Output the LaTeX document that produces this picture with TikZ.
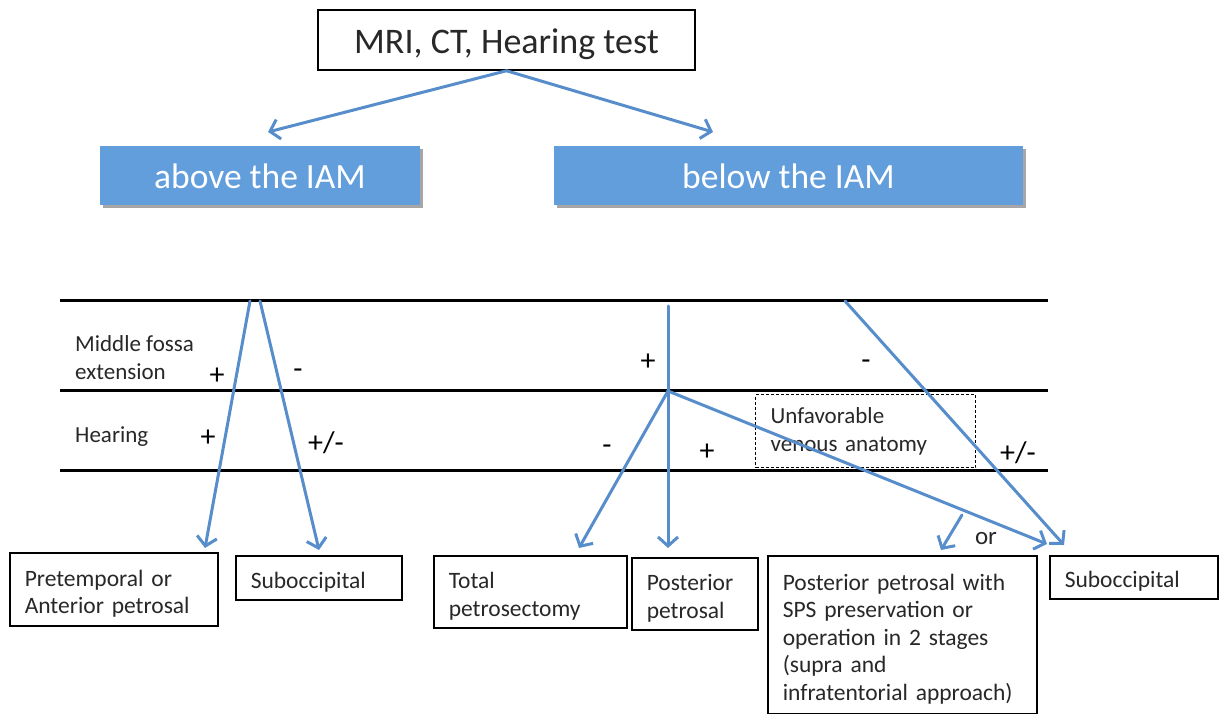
\documentclass[tikz,border=0pt]{standalone}
\usepackage{fontspec}
\setmainfont{Carlito}
\usetikzlibrary{arrows.meta,shadows}
\definecolor{lineblue}{RGB}{88,141,203}
\definecolor{boxblue}{RGB}{98,157,220}
\definecolor{txt}{RGB}{40,40,40}
\newcommand{\dnstrut}{\rule{0pt}{25pt}}
\begin{document}
\begin{tikzpicture}[x=1pt,y=-1pt,
  conn/.style={draw=lineblue, line width=3pt, line cap=round,
    -{Straight Barb[length=9pt,width=20pt,line width=3pt]}},
  rule/.style={draw=black, line width=3pt},
  topbox/.style={draw=black, line width=1.5pt, fill=white, minimum width=377pt,
    minimum height=60pt, inner sep=0pt, font=\fontsize{36}{40}\selectfont, text=txt},
  bluebox/.style={fill=boxblue, minimum height=59pt, inner sep=0pt,
    font=\fontsize{35.5}{40}\selectfont, text=white,
    drop shadow={shadow xshift=3pt, shadow yshift=-3pt, opacity=0.35, fill=black}},
  obox/.style={draw=black, line width=1.5pt, fill=white, anchor=north west,
    align=left, inner xsep=15pt, inner ysep=0pt, text=txt,
    font=\fontsize{23.5}{27.5}\selectfont},
  lab/.style={font=\fontsize{23}{28}\selectfont, text=txt, align=left, anchor=west, inner sep=0pt},
  sign/.style={font=\fontsize{30}{32}\selectfont, text=black, inner sep=0pt},
]
\useasboundingbox (0,0) rectangle (1219,714);

% top
\node[topbox] (mri) at (506.5,40) {\raisebox{-14pt}[0pt][0pt]{MRI, CT, Hearing test}};
\coordinate (tipL) at (268,132);
\coordinate (tipR) at (713,132);
\draw[conn] (mri.south) -- (tipL);
\draw[conn] (mri.south) -- (tipR);

\node[bluebox, minimum width=320pt] (above) at (260,175.5) {\raisebox{-13.5pt}[0pt][0pt]{above the IAM}};
\node[bluebox, minimum width=469pt] (below) at (788.5,175.5) {\raisebox{-13.5pt}[0pt][0pt]{below the IAM}};

% table rules
\coordinate (r1a) at (60,301); \coordinate (r1b) at (1048,301);
\coordinate (r2a) at (60,390); \coordinate (r2b) at (1048,390);
\coordinate (r3a) at (60,470); \coordinate (r3b) at (1048,470);
\draw[rule] (r1a) -- (r1b);
\draw[rule] (r2a) -- (r2b);
\draw[rule] (r3a) -- (r3b);

% row labels
\node[lab] (mfe) at (75,358) {Middle fossa\\extension};
\node[lab] (hear) at (75,437) {Hearing};

% dashed box
\node[draw=black, line width=1.2pt, dash pattern=on 3pt off 2pt, fill=white,
  anchor=north west, minimum width=220pt, minimum height=73pt, text width=190pt,
  inner xsep=15pt, inner ysep=0pt, align=left, text=txt,
  font=\fontsize{23}{28}\selectfont] (unf) at (755,394) {Unfavorable\\venous anatomy};

% signs
\node[sign] (s1) at (217,376) {+};
\node[sign] (s2) at (298,374) {-};
\node[sign] (s3) at (208,438) {+};
\node[sign] (s4) at (326,443) {+/-};
\node[sign] (s5) at (648,362) {+};
\node[sign] (s6) at (866,365) {-};
\node[sign] (s7) at (607,450) {-};
\node[sign] (s8) at (707,452) {+};
\node[sign] (s9) at (1018,453) {+/-};
\node[font=\fontsize{25}{28}\selectfont, text=txt, inner sep=0pt] (or) at (986,539) {or};

% bottom boxes
\node[obox, text width=178pt, minimum height=73pt] (pre) at (9,552) {\dnstrut Pretemporal or\\Anterior petrosal};
\node[obox, text width=136pt, minimum height=44pt] (sub1) at (235,555) {\dnstrut Suboccipital};
\node[obox, text width=163pt, minimum height=72pt] (tot) at (433,555) {\dnstrut Total\\petrosectomy};
\node[obox, text width=96pt, minimum height=72pt] (post) at (631,557) {\dnstrut Posterior\\petrosal};
\node[obox, text width=239pt, minimum height=158pt] (sps) at (767,555) {\dnstrut Posterior petrosal with\\SPS preservation or\\operation in 2 stages\\(supra and\\infratentorial approach)};
\node[obox, text width=138pt, minimum height=43pt] (sub2) at (1049,555) {\dnstrut Suboccipital};

% table connectors
\coordinate (a1) at (250,301); \coordinate (a1t) at (205,548);
\coordinate (a2) at (260,301); \coordinate (a2t) at (319,550);
\coordinate (v0) at (668,306); \coordinate (vb) at (668,391); \coordinate (vt) at (668,548);
\coordinate (tt) at (579,548);
\coordinate (st) at (1047,544);
\coordinate (o1) at (962,515); \coordinate (o1t) at (941,550);
\coordinate (m0) at (845,301); \coordinate (mt) at (1064,545);

\draw[conn] (a1) -- (a1t);
\draw[conn] (a2) -- (a2t);
\draw[conn] (v0) -- (vt);
\draw[conn] (vb) -- (tt);
\draw[conn] (vb) -- (st);
\draw[conn] (o1) -- (o1t);
\draw[conn] (m0) -- (mt);
\end{tikzpicture}
\end{document}
